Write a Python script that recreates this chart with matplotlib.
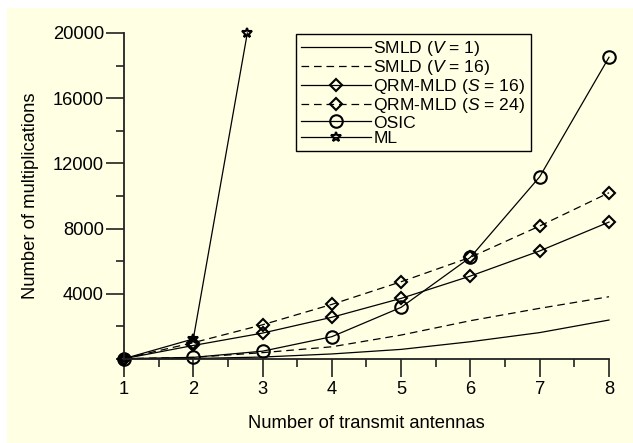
import matplotlib
matplotlib.use("Agg")
import matplotlib.pyplot as plt
from matplotlib.patches import Rectangle
from matplotlib.ticker import MultipleLocator

plt.rcParams['font.family'] = ['Liberation Sans', 'DejaVu Sans']
plt.rcParams['mathtext.fontset'] = 'custom'
plt.rcParams['mathtext.it'] = 'Liberation Sans:italic'
plt.rcParams['mathtext.rm'] = 'Liberation Sans'
plt.rcParams['lines.scale_dashes'] = False

antennas = [1, 2, 3, 4, 5, 6, 7, 8]
smld_v1 = [20, 30, 120, 310, 590, 1060, 1620, 2390]
smld_v16 = [20, 100, 390, 750, 1470, 2350, 3110, 3820]
qrm_s16 = [20, 830, 1590, 2560, 3720, 5090, 6630, 8400]
qrm_s24 = [20, 1000, 2100, 3350, 4740, 6240, 8160, 10200]
osic = [20, 100, 480, 1370, 3170, 6240, 11180, 18510]
ml_x = [1, 2, 2.78]
ml = [20, 1230, 20000]

labels = ['SMLD ($V$ = 1)', 'SMLD ($V$ = 16)', 'QRM-MLD ($S$ = 16)',
          'QRM-MLD ($S$ = 24)', 'OSIC', 'ML']
xlabel = 'Number of transmit antennas'
ylabel = 'Number of multiplications'

fs = 13.2
bg = '#FFFFE3'
fig = plt.figure(figsize=(6.33, 4.43), dpi=100)
fig.patch.set_facecolor('white')
fig.patches.append(Rectangle((7/633, 0), 1, 1 - 8/443, transform=fig.transFigure,
                             facecolor=bg, edgecolor='none', zorder=-10))
ax = fig.add_axes([124/633, 1 - 359/443, 485/633, 326/443])
ax.set_facecolor(bg)

dash = (0, (5.5, 3.5))
lw = 0.9
common = dict(color='black', lw=lw, clip_on=False, markerfacecolor='none',
              markeredgecolor='black', markeredgewidth=1.5)
ax.plot(antennas, smld_v1, ls='-', label=labels[0], **common)
ax.plot(antennas, smld_v16, ls=dash, label=labels[1], **common)
ax.plot(antennas, qrm_s16, ls='-', marker='D', ms=6.5, label=labels[2], **common)
ax.plot(antennas, qrm_s24, ls=dash, marker='D', ms=6.5, label=labels[3], **common)
ax.plot(antennas, osic, ls='-', marker='o', ms=9, label=labels[4], **common)
ax.plot(ml_x, ml, ls='-', marker='*', ms=7, label=labels[5], **common)

ax.set_xlim(1, 8)
ax.set_ylim(0, 20000)
ax.xaxis.set_major_locator(MultipleLocator(1))
ax.xaxis.set_minor_locator(MultipleLocator(0.5))
ax.yaxis.set_major_locator(MultipleLocator(4000))
ax.yaxis.set_minor_locator(MultipleLocator(2000))
ax.set_yticks([4000, 8000, 12000, 16000, 20000])
for s in ['top', 'right']:
    ax.spines[s].set_visible(False)
for s in ['left', 'bottom']:
    ax.spines[s].set_linewidth(1.3)
    ax.spines[s].set_color('#222222')
ax.tick_params(which='major', direction='out', length=13, width=1.2, color='#222222',
               labelsize=fs, pad=3)
ax.tick_params(which='minor', direction='out', length=6, width=1.2, color='#222222')
ax.tick_params(axis='y', which='major', pad=1.5)

ax.set_xlabel(xlabel, fontsize=fs, labelpad=12)
ax.set_ylabel(ylabel, fontsize=fs, labelpad=10)

leg = ax.legend(loc='upper left', bbox_to_anchor=(296/633, 1 - 34/443),
                bbox_transform=fig.transFigure, fontsize=12.6, frameon=True,
                fancybox=False, framealpha=1, facecolor=bg, edgecolor='black',
                handlelength=4.0, handletextpad=0.12, labelspacing=0.0,
                borderpad=0.3, borderaxespad=0)
leg.get_frame().set_linewidth(1.0)

fig.savefig('out.png', dpi=100, facecolor='white')
